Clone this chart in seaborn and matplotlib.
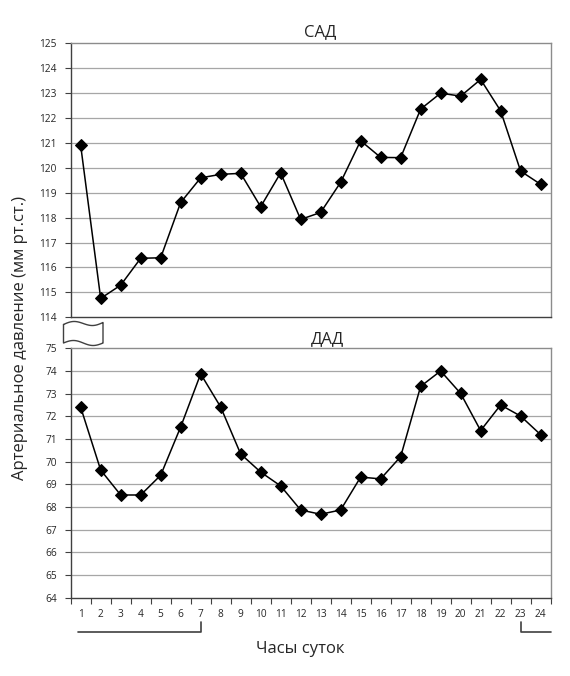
import numpy as np
import matplotlib
matplotlib.use("Agg")
import matplotlib.pyplot as plt
import matplotlib.transforms as mtransforms
import seaborn as sns
import pandas as pd

# Hours of the day and blood pressure values
hours = list(range(1, 25))
sad = [120.9, 114.76, 115.29, 116.37, 116.39, 118.61, 119.6, 119.74, 119.78,
       118.44, 119.8, 117.93, 118.21, 119.42, 121.09, 120.42, 120.41, 122.36,
       123.0, 122.88, 123.55, 122.29, 119.87, 119.34]
dad = [72.4, 69.63, 68.53, 68.53, 69.4, 71.53, 73.87, 72.41, 70.34, 69.54,
       68.93, 67.87, 67.68, 67.87, 69.32, 69.24, 70.22, 73.32, 74.0, 73.01,
       71.37, 72.5, 72.01, 71.19]
sad_ticks = list(range(114, 126))
dad_ticks = list(range(64, 76))
night_left = (0.85, 7)
night_right = (23.03, 24.5)

df = pd.DataFrame({"hour": hours, "sad": sad, "dad": dad})

sns.set_style("white")
plt.rcParams["font.family"] = ["Open Sans", "DejaVu Sans"]

fig = plt.figure(figsize=(5.7, 6.76), dpi=100)
ax_top = fig.add_axes([0.124, 0.5306, 0.842, 0.4053])
ax_bot = fig.add_axes([0.124, 0.1158, 0.842, 0.369])

grid_col = "#a6a6a6"
frame_col = "#8c8c8c"


def style_axes(ax, yticks, show_x):
    ax.set_xlim(0.5, 24.5)
    ax.set_ylim(yticks[0], yticks[-1])
    ax.set_yticks(yticks)
    ax.set_yticklabels([str(t) for t in yticks], fontsize=7.3)
    for t in yticks[1:-1]:
        ax.axhline(t, color=grid_col, lw=0.9, zorder=0)
    for side in ["top", "right"]:
        ax.spines[side].set_color(frame_col)
        ax.spines[side].set_linewidth(1.0)
    ax.spines["left"].set_color("#404040")
    ax.spines["bottom"].set_color("#404040")
    ax.spines["left"].set_linewidth(1.0)
    ax.spines["bottom"].set_linewidth(1.0)
    ax.tick_params(axis="y", which="major", direction="out", length=4,
                   width=0.8, color="#404040", pad=6, left=True)
    ax.set_xlabel("")
    ax.set_ylabel("")
    if show_x:
        ax.set_xticks(hours)
        ax.set_xticklabels([str(h) for h in hours], fontsize=7.3)
        ax.set_xticks(np.arange(0.5, 25, 1), minor=True)
        ax.tick_params(axis="x", which="major", length=0, pad=8)
        ax.tick_params(axis="x", which="minor", direction="out", length=4,
                       width=0.8, color="#404040", bottom=True)
    else:
        ax.set_xticks([])


sns.lineplot(data=df, x="hour", y="sad", ax=ax_top, color="black", lw=1.1,
             marker="D", markersize=5.8, markeredgecolor="black")
sns.lineplot(data=df, x="hour", y="dad", ax=ax_bot, color="black", lw=1.1,
             marker="D", markersize=5.8, markeredgecolor="black")

style_axes(ax_top, sad_ticks, False)
style_axes(ax_bot, dad_ticks, True)

ax_top.set_title("САД", fontsize=12, pad=5, x=0.52)
ax_bot.set_title("ДАД", fontsize=12, pad=4, x=0.535)
ax_bot.title.set_position((0.535, 1.012))

fig.text(0.035, 0.5, "Артериальное давление (мм рт.ст.)", rotation=90,
         ha="center", va="center", fontsize=12)
fig.text(0.526, 0.04, "Часы суток", ha="center", va="center", fontsize=12)

# night-time brackets under the x axis
trans = mtransforms.blended_transform_factory(ax_bot.transData, fig.transFigure)
y_h = 1 - 632 / 676
y_v = 1 - 621.5 / 676
ax_bot.plot([night_left[0], night_left[1], night_left[1]], [y_h, y_h, y_v],
            transform=trans, color="#404040", lw=1.2, clip_on=False)
ax_bot.plot([night_right[0], night_right[0], night_right[1]], [y_v, y_h, y_h],
            transform=trans, color="#404040", lw=1.2, clip_on=False)

# axis break mark between panels
t = np.linspace(0, 1, 60)
bx = (63.5 + t * 39.5) / 570
wave = 2.5 * np.sin(2 * np.pi * t) + 2.0 * t
top_y = 1 - (324.5 - wave) / 676
bot_y = 1 - (343.0 - wave + 2.0 * t) / 676
xs = np.concatenate([bx, bx[::-1], [bx[0]]])
ys = np.concatenate([top_y, bot_y[::-1], [top_y[0]]])
fig.add_artist(plt.Line2D(xs, ys, color="#404040", lw=1.0,
                          transform=fig.transFigure))

fig.savefig("out.png", dpi=100)
